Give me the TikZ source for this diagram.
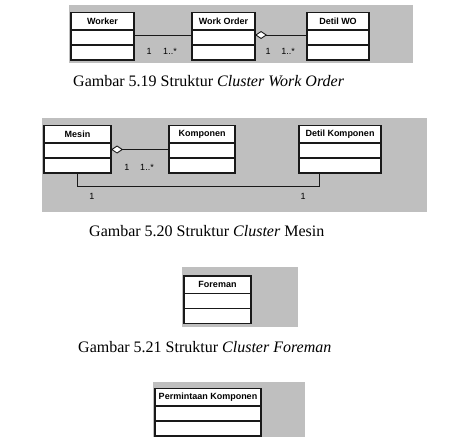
\documentclass[tikz,border=0pt]{standalone}
\usepackage{fontspec}
\setmainfont{Liberation Serif}
\newfontfamily\umlfont{Liberation Sans}
\usetikzlibrary{positioning, arrows.meta}

\begin{document}
\begin{tikzpicture}[x=1pt, y=-1pt,
	panel/.style={fill=black!25},
	classname/.style={draw=black!90, fill=white, line width=1.1pt, anchor=north west,
		minimum height=17.5pt, inner sep=0pt, outer sep=0pt,
		font=\umlfont\bfseries\fontsize{9}{11}\selectfont},
	classslot/.style={draw=black!90, fill=white, line width=1.1pt, minimum width=#1,
		minimum height=15pt, inner sep=0pt, outer sep=0pt},
	assoc/.style={draw=black!90, line width=0.9pt},
	aggr/.style={assoc, {Diamond[fill=white, length=12pt, width=8pt]}-},
	mult/.style={inner sep=0pt, font=\umlfont\fontsize{9}{11}\selectfont},
	caption/.style={anchor=base west, inner sep=0pt, font=\fontsize{16}{19}\selectfont},
	]
	\useasboundingbox (0,0) rectangle (457,441);

	% cluster work order
	\fill[panel] (69,5) rectangle (413,63);
	\node[classname, minimum width=63pt] (worker) at (71,12.5) {Worker};
	\node[classslot=63pt, below=0pt of worker] (worker1) {};
	\node[classslot=63pt, below=0pt of worker1] (worker2) {};
	\node[classname, minimum width=63pt] (workorder) at (192,12.5) {Work Order};
	\node[classslot=63pt, below=0pt of workorder] (workorder1) {};
	\node[classslot=63pt, below=0pt of workorder1] (workorder2) {};
	\node[classname, minimum width=62pt] (detilwo) at (307,12.5) {Detil WO};
	\node[classslot=62pt, below=0pt of detilwo] (detilwo1) {};
	\node[classslot=62pt, below=0pt of detilwo1] (detilwo2) {};
	\draw[assoc] ([yshift=2.5pt]worker1.east) -- ([yshift=2.5pt]workorder1.west);
	\draw[aggr] ([yshift=2.5pt]workorder1.east) -- ([yshift=2.5pt]detilwo1.west);
	\node[mult] (wm1) at (149,51) {1};
	\node[mult] (wm2) at (170,51) {1..*};
	\node[mult] (wm3) at (268,51) {1};
	\node[mult] (wm4) at (288,51) {1..*};
	\node[caption] (cap519) at (73,87) {Gambar 5.19 Struktur \textit{Cluster Work Order}};

	% cluster mesin
	\fill[panel] (42,118) rectangle (427,212);
	\node[classname, minimum width=67pt] (mesin) at (44,125.5) {Mesin};
	\node[classslot=67pt, below=0pt of mesin] (mesin1) {};
	\node[classslot=67pt, below=0pt of mesin1] (mesin2) {};
	\node[classname, minimum width=66pt] (komponen) at (169,125.5) {Komponen};
	\node[classslot=66pt, below=0pt of komponen] (komponen1) {};
	\node[classslot=66pt, below=0pt of komponen1] (komponen2) {};
	\node[classname, minimum width=82pt] (detilkomp) at (299,125.5) {Detil Komponen};
	\node[classslot=82pt, below=0pt of detilkomp] (detilkomp1) {};
	\node[classslot=82pt, below=0pt of detilkomp1] (detilkomp2) {};
	\draw[aggr] ([yshift=1pt]mesin1.east) -- ([yshift=1pt]komponen1.west);
	\draw[assoc] (mesin2.south) -- ++(0,13) -| ([xshift=-21pt]detilkomp2.south);
	\node[mult] (mm1) at (127,167) {1};
	\node[mult] (mm2) at (147,167) {1..*};
	\node[mult] (mm3) at (92,196) {1};
	\node[mult] (mm4) at (303,196) {1};
	\node[caption] (cap520) at (89,236) {Gambar 5.20 Struktur \textit{Cluster} Mesin};

	% cluster foreman
	\fill[panel] (182,267) rectangle (298,327);
	\node[classname, minimum width=67pt] (foreman) at (184,276) {Foreman};
	\node[classslot=67pt, below=0pt of foreman] (foreman1) {};
	\node[classslot=67pt, below=0pt of foreman1] (foreman2) {};
	\node[caption] (cap521) at (78,352) {Gambar 5.21 Struktur \textit{Cluster Foreman}};

	% cluster permintaan komponen
	\fill[panel] (153,382) rectangle (305,437);
	\node[classname, minimum width=106pt] (permintaan) at (155,388.5) {Permintaan Komponen};
	\node[classslot=106pt, below=0pt of permintaan] (permintaan1) {};
	\node[classslot=106pt, below=0pt of permintaan1] (permintaan2) {};
\end{tikzpicture}
\end{document}
